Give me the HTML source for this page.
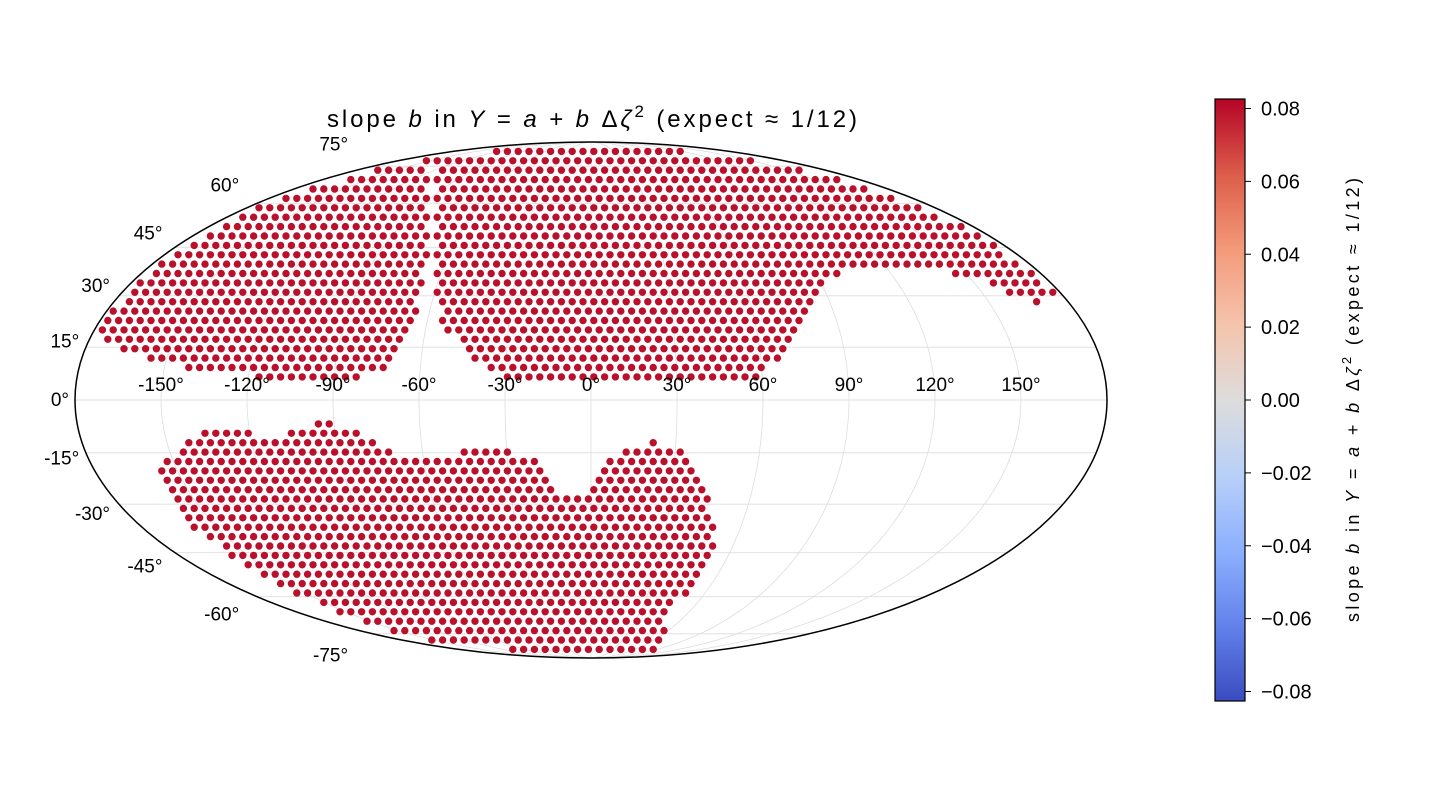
<!DOCTYPE html>
<html><head><meta charset="utf-8"><style>
body{margin:0;background:#fff;}
svg{display:block;font-family:"Liberation Sans","DejaVu Sans",sans-serif;}
</style></head><body>
<svg id="chart" width="1440" height="800" viewBox="0 0 1440 800" xmlns="http://www.w3.org/2000/svg">
<defs>
<linearGradient id="cw" x1="0" y1="1" x2="0" y2="0">
<stop offset="0" stop-color="#3b4cc0"/><stop offset="0.125" stop-color="#6282ea"/>
<stop offset="0.25" stop-color="#8db0fe"/><stop offset="0.375" stop-color="#b8d0f9"/>
<stop offset="0.5" stop-color="#dddcdc"/><stop offset="0.625" stop-color="#f5c4ac"/>
<stop offset="0.75" stop-color="#f49a7b"/><stop offset="0.875" stop-color="#dc5d4a"/>
<stop offset="1" stop-color="#b40426"/>
</linearGradient>
</defs>
<text x="327" y="127" font-size="24" textLength="530" lengthAdjust="spacing">slope <tspan font-style="italic">b</tspan> in <tspan font-style="italic">Y</tspan> = <tspan font-style="italic">a</tspan> + <tspan font-style="italic">b</tspan> Δ<tspan font-style="italic">ζ</tspan><tspan dy="-10" font-size="17">2</tspan><tspan dy="10">   (expect  ≈ 1/12)</tspan></text>
<g id="grid"></g>
<g id="dots"></g>
<ellipse cx="591" cy="400" rx="516" ry="258" fill="none" stroke="#000" stroke-width="1.5"/>
<g id="labels" font-size="19"></g>
<rect x="1215" y="99" width="30" height="602" fill="url(#cw)" stroke="#000" stroke-width="1.2"/>
<g id="cbticks" font-size="20"></g>
<text transform="translate(1359,622) rotate(-90)" font-size="18" textLength="444" lengthAdjust="spacing">slope <tspan font-style="italic">b</tspan> in <tspan font-style="italic">Y</tspan> = <tspan font-style="italic">a</tspan> + <tspan font-style="italic">b</tspan> Δ<tspan font-style="italic">ζ</tspan><tspan dy="-8" font-size="13">2</tspan><tspan dy="8">   (expect  ≈ 1/12)</tspan></text>
</svg>
<script>
const lonTicks=[-150,-120,-90,-60,-30,0,30,60,90,120,150];
const latTicks=[75,60,45,30,15,0,-15,-30,-45,-60,-75];
const cbTicks=[0.08,0.06,0.04,0.02,0,-0.02,-0.04,-0.06,-0.08];
const cbTickLabels=["0.08","0.06","0.04","0.02","0.00","\u22120.02","\u22120.04","\u22120.06","\u22120.08"];
const regionSlopes=[0.0833,0.0833,0.0833];
// footprint outlines (pixel-space masks)
const regionNorthWest=[[95,325],[115,350],[152,360],[188,370],[238,376],[275,378],[365,378],[397,360],[410,340],[415,322],[420,290],[426,263],[430,240],[430,150],[60,150],[60,325]];
const regionNorthMain=[[433,150],[432,230],[434,277],[438,313],[455,342],[482,369],[508,383],[600,386],[707,386],[742,380],[762,378],[775,364],[792,338],[828,282],[853,269],[870,265],[900,267],[933,269],[950,274],[980,280],[993,285],[1007,294],[1023,299],[1037,302],[1057,299],[1072,310],[1120,310],[1120,120],[433,120]];
const regionSouth=[[156,470],[203,430],[251,432],[259,440],[278,440],[305,425],[327,423],[354,430],[373,441],[385,451],[408,455],[442,458],[469,445],[504,451],[534,458],[549,485],[565,492],[584,501],[599,477],[618,449],[649,441],[687,453],[710,501],[717,553],[705,572],[670,612],[662,640],[662,680],[477,680],[477,652],[427,642],[389,632],[366,625],[343,615],[308,599],[270,579],[247,569],[228,555],[182,519]];
const regions=[regionNorthWest,regionNorthMain,regionSouth];

const CX=591,CY=400,A=516,B=258;
function theta(phi){let t=phi;for(let i=0;i<50;i++){const f=2*t+Math.sin(2*t)-Math.PI*Math.sin(phi);const d=2+2*Math.cos(2*t);if(Math.abs(d)<1e-9)break;t-=f/d;}return t;}
function proj(lon,lat){const p=lat*Math.PI/180,t=theta(p),l=lon*Math.PI/180;return [CX+A*(l/Math.PI)*Math.cos(t),CY-B*Math.sin(t)];}
function cbY(v){return 400-v*(291.5/0.08);}
function coolwarm(v){return v>0.06?'#b9102c':'#dc5d4a';}
const NS='http://www.w3.org/2000/svg';
function mk(tag,attrs,parent){const e=document.createElementNS(NS,tag);for(const k in attrs)e.setAttribute(k,attrs[k]);parent.appendChild(e);return e;}
function inPoly(x,y,poly){let c=false;for(let i=0,j=poly.length-1;i<poly.length;j=i++){const[xi,yi]=poly[i],[xj,yj]=poly[j];if(((yi>y)!=(yj>y))&&(x<(xj-xi)*(y-yi)/(yj-yi)+xi))c=!c;}return c;}

const grid=document.getElementById('grid');
latTicks.concat([0]).forEach(lat=>{let d='';for(let lon=-180;lon<=180;lon+=3){const[x,y]=proj(lon,lat);d+=(lon==-180?'M':'L')+x.toFixed(1)+','+y.toFixed(1);}
const g=mk('path',{d:d,fill:'none',stroke:'#dddddd','stroke-width':0.8},grid);

});
lonTicks.forEach(lon=>{let d='';for(let lat=-90;lat<=90;lat+=2){const[x,y]=proj(lon,lat);d+=(lat==-90?'M':'L')+x.toFixed(1)+','+y.toFixed(1);}
const g=mk('path',{d:d,fill:'none',stroke:'#dddddd','stroke-width':0.8},grid);

});

const dots=document.getElementById('dots');
const sp=10.8;
regions.forEach((poly,ri)=>{
for(let row=0;row*sp*0.87<540;row++){const y=142+row*sp*0.87;const off=(row%2)*sp/2;
for(let x=70+off;x<1110;x+=sp){const ex=(x-CX)/(A-5),ey=(y-CY)/(B-5);if(ex*ex+ey*ey>1)continue;if(!inPoly(x,y,poly))continue;
const c=mk('circle',{cx:x.toFixed(1),cy:y.toFixed(1),r:3.7,fill:coolwarm(regionSlopes[ri])},dots);

}}});

const lab=document.getElementById('labels');
lonTicks.forEach(lon=>{const[x]=proj(lon,0);
const t=mk('text',{x:x,y:391,'text-anchor':'middle'},lab);t.textContent=lon+'°';

});
latTicks.forEach(lat=>{const[x,y]=proj(-180,lat);const a=Math.abs(lat),s=Math.sign(lat);
const dx=-(6+0.0033*a*a),dy=-s*(2+a*0.26);
const t=mk('text',{x:x+dx,y:y+dy+6,'text-anchor':'end'},lab);t.textContent=lat+'°';

});

const cb=document.getElementById('cbticks');
cbTicks.forEach((v,i)=>{const y=cbY(v);
const l=mk('line',{x1:1245,x2:1251,y1:y,y2:y,stroke:'#000','stroke-width':1},cb);


const t=mk('text',{x:1261,y:y+7},cb);t.textContent=cbTickLabels[i];

});
</script>
</body></html>
